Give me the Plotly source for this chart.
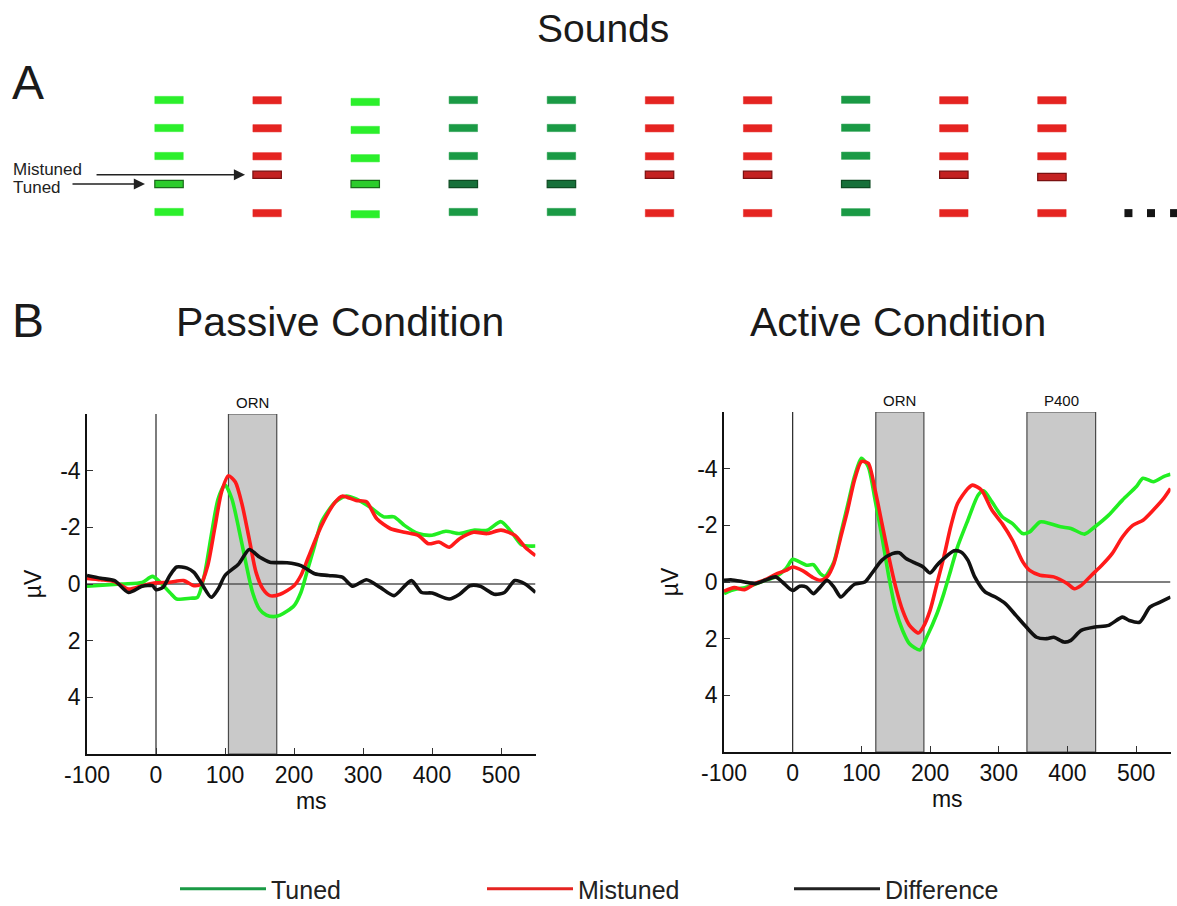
import plotly.graph_objects as go

W, H = 1177, 906

# ---------------- data: ERP waveforms (µV, negative plotted upward) ----------------
passive_tuned_ms = [-100,-50,-20,-5,20,30,50,60,70,80,90,100,110,120,130,140,150,160,170,180,200,210,220,230,240,260,275,290,310,330,345,360,380,400,420,440,460,480,500,515,530,550]
passive_tuned_uv = [0.08,0,-0.05,-0.27,0.3,0.53,0.5,0.47,-0.3,-1.7,-3.0,-3.5,-3.0,-1.95,-0.77,0.3,0.89,1.1,1.15,1.1,0.77,0.3,-0.53,-1.36,-2.2,-2.9,-3.1,-3.0,-2.72,-2.37,-2.37,-2.07,-1.78,-1.72,-1.86,-1.78,-1.9,-1.9,-2.2,-1.84,-1.38,-1.34]

passive_mistuned_ms = [-100,-80,-60,-40,-20,0,20,40,55,65,75,85,95,105,115,125,135,145,155,165,180,200,210,220,240,260,270,290,305,320,340,360,380,395,410,425,440,460,480,500,520,535,550]
passive_mistuned_uv = [-0.2,-0.15,-0.08,0.18,0.06,-0.04,-0.06,-0.12,0.06,0,-0.65,-1.95,-3.25,-3.82,-3.6,-2.78,-1.6,-0.41,0.18,0.41,0.36,0.06,-0.3,-0.89,-2.07,-2.9,-3.1,-2.95,-2.9,-2.3,-1.95,-1.83,-1.72,-1.42,-1.48,-1.3,-1.6,-1.83,-1.78,-1.9,-1.72,-1.3,-1.0]

passive_diff_ms = [-100,-80,-60,-40,-20,-5,0,10,20,30,45,55,65,80,90,100,120,135,150,165,190,210,230,250,270,285,305,325,345,370,385,400,425,440,455,470,490,505,520,535,550]
passive_diff_uv = [-0.3,-0.2,-0.12,0.3,0.08,0.06,0.2,0.12,-0.3,-0.6,-0.56,-0.41,-0.06,0.47,0.18,-0.3,-0.71,-1.22,-0.95,-0.77,-0.75,-0.65,-0.36,-0.3,-0.24,0.08,-0.15,0.12,0.41,-0.12,0.3,0.32,0.53,0.36,0.06,0.08,0.36,0.3,-0.12,0,0.3]

active_tuned_ms = [-100,-90,-80,-70,-55,-40,-25,-10,0,10,20,30,40,47,60,70,80,90,100,110,120,130,140,150,160,170,185,195,210,220,230,240,255,270,278,290,305,320,335,345,360,375,390,405,425,440,460,480,500,510,525,540,550]
active_tuned_uv = [0.41,0.3,0.24,0.2,0.08,-0.06,-0.18,-0.47,-0.8,-0.71,-0.59,-0.61,-0.3,-0.2,-0.71,-1.71,-2.71,-3.72,-4.37,-4.07,-2.89,-1.59,-0.18,1.0,1.71,2.18,2.4,1.95,1.12,0.41,-0.41,-1.24,-2.18,-3.07,-3.22,-2.83,-2.3,-2.06,-1.71,-1.77,-2.12,-2.06,-1.95,-1.89,-1.69,-1.95,-2.36,-2.89,-3.36,-3.66,-3.54,-3.72,-3.8]

active_mistuned_ms = [-100,-85,-70,-55,-40,-25,-10,0,15,30,40,50,60,70,80,90,100,110,120,130,140,150,160,170,183,190,200,210,220,230,240,255,262,275,290,305,320,335,345,360,380,400,410,420,435,450,465,480,495,510,525,540,550]
active_mistuned_uv = [0.32,0.2,0.27,0.06,-0.08,-0.27,-0.41,-0.53,-0.39,-0.15,-0.06,-0.18,-0.65,-1.59,-2.54,-3.6,-4.25,-4.19,-3.24,-2.06,-0.88,0.18,1.0,1.53,1.8,1.59,1.0,0.06,-0.88,-1.95,-2.77,-3.3,-3.42,-3.24,-2.54,-2.06,-1.47,-0.71,-0.41,-0.24,-0.18,0.06,0.24,0.12,-0.24,-0.59,-1.0,-1.59,-2.0,-2.18,-2.54,-2.95,-3.3]

active_diff_ms = [-100,-90,-70,-55,-40,-25,-15,0,10,20,30,40,50,60,70,80,90,105,115,130,145,155,165,180,190,200,210,220,235,245,255,265,280,295,310,325,340,355,370,380,395,405,420,440,460,480,490,505,520,535,550]
active_diff_uv = [-0.06,-0.08,0,0.06,-0.06,-0.18,0,0.3,0.15,0.18,0.41,0.18,-0.06,0.18,0.53,0.3,0.08,0,-0.3,-0.77,-1.0,-1.03,-0.83,-0.65,-0.53,-0.32,-0.59,-0.83,-1.1,-1.06,-0.77,-0.18,0.35,0.53,0.77,1.18,1.59,1.95,2.0,1.95,2.12,2.06,1.71,1.59,1.53,1.24,1.36,1.42,0.89,0.71,0.53]

# analysis windows (ms)
passive_windows = [("ORN", 105, 175)]
active_windows = [("ORN", 121, 191), ("P400", 341, 441)]

x_ticks = [-100, 0, 100, 200, 300, 400, 500]
y_ticks = [-4, -2, 0, 2, 4]

series_names = ["Tuned", "Mistuned", "Difference"]
curve_colors = ["#22ee22", "#ff1a1a", "#111111"]
legend_colors = ["#1a9a45", "#e52421", "#222222"]

# ---------------- data: sound sequence (panel A) ----------------
sound_kinds = ["tuned_light", "mistuned", "tuned_light", "tuned_dark", "tuned_dark",
               "mistuned", "mistuned", "tuned_dark", "mistuned", "mistuned"]
# harmonic levels of each sound (bottom to top); index 1 is the (mis)tuned component
sound_levels = [
    [1.0, 2.0, 3.0, 4.0, 5.0],
    [0.96, 2.33, 2.99, 3.99, 4.99],
    [0.92, 2.0, 2.92, 3.93, 4.93],
    [1.0, 2.0, 3.0, 4.0, 5.0],
    [1.0, 2.0, 3.0, 4.0, 5.0],
    [0.96, 2.33, 2.99, 3.99, 4.99],
    [0.96, 2.33, 2.99, 3.99, 4.99],
    [0.99, 2.0, 3.01, 4.01, 5.01],
    [0.96, 2.33, 2.99, 3.99, 4.99],
    [0.96, 2.25, 2.99, 3.99, 4.99],
]
target_harmonic = 1
ellipsis_x = [9.78, 10.01, 10.245]
ellipsis_y = [0.96, 0.96, 0.96]

kind_fill = {"tuned_light": "#2bef2b", "tuned_dark": "#1a9a45", "mistuned": "#e52421"}
kind_target_fill = {"tuned_light": "#2ccc2c", "tuned_dark": "#17703a", "mistuned": "#c42222"}
kind_target_line = {"tuned_light": "#1a6a1a", "tuned_dark": "#0e4a22", "mistuned": "#7a1010"}

# ---------------- layout helpers ----------------
def px_x(p):
    return p / W

def px_y(p):
    return 1 - p / H

FONT = "Liberation Sans, Arial, sans-serif"

fig = go.Figure()

panels = [
    ("x", "y", [(passive_tuned_ms, passive_tuned_uv), (passive_mistuned_ms, passive_mistuned_uv), (passive_diff_ms, passive_diff_uv)], passive_windows),
    ("x2", "y2", [(active_tuned_ms, active_tuned_uv), (active_mistuned_ms, active_mistuned_uv), (active_diff_ms, active_diff_uv)], active_windows),
]

shapes = []
annotations = []

for xa, ya, data, windows in panels:
    for label, t0, t1 in windows:
        shapes.append(dict(type="rect", xref=xa, yref=ya, x0=t0, x1=t1, y0=6, y1=-6,
                           fillcolor="#c9c9c9", line=dict(color="#4a4a4a", width=1.2), layer="below"))
        annotations.append(dict(xref=xa, yref=ya, x=(t0 + t1) / 2, y=-6, text=label, showarrow=False,
                                yanchor="bottom", yshift=1, font=dict(family=FONT, size=15, color="#111")))
    shapes.append(dict(type="line", xref=xa, yref=ya, x0=0, x1=0, y0=6, y1=-6,
                       line=dict(color="#111", width=1.1), layer="below"))
    shapes.append(dict(type="line", xref=xa, yref=ya, x0=-100, x1=550, y0=0, y1=0,
                       line=dict(color="#555", width=1.3), layer="below"))
    for (ms, uv), name, col in zip(data, series_names, curve_colors):
        fig.add_trace(go.Scatter(x=ms, y=uv, mode="lines", name=name, xaxis=xa, yaxis=ya,
                                 line=dict(color=col, width=3.6, shape="spline", smoothing=0.7),
                                 showlegend=False, hoverinfo="skip"))

# legend-only traces
for name, col in zip(series_names, legend_colors):
    fig.add_trace(go.Scatter(x=[None], y=[None], mode="lines", name=name,
                             line=dict(color=col, width=3), xaxis="x", yaxis="y", showlegend=True))

# ---------------- panel A: sounds ----------------
bar_w = 0.145   # half width in column units
bar_h = 0.13    # half height in level units
for i, (kind, levels) in enumerate(zip(sound_kinds, sound_levels)):
    for j, lv in enumerate(levels):
        is_target = (j == target_harmonic)
        shapes.append(dict(type="rect", xref="x3", yref="y3",
                           x0=i - bar_w, x1=i + bar_w, y0=lv - bar_h, y1=lv + bar_h,
                           fillcolor=kind_target_fill[kind] if is_target else kind_fill[kind],
                           line=dict(color=kind_target_line[kind] if is_target else kind_fill[kind],
                                     width=1.2 if is_target else 0.5)))
fig.add_trace(go.Scatter(x=ellipsis_x, y=ellipsis_y, mode="markers", xaxis="x3", yaxis="y3",
                         marker=dict(symbol="square", size=8, color="#151515"),
                         showlegend=False, hoverinfo="skip"))

annotations.append(dict(xref="x3", yref="y3", x=1 - bar_w - 0.08, y=sound_levels[1][target_harmonic],
                        ax=-150, ay=0, text="", showarrow=True, arrowhead=2, arrowsize=1.4,
                        arrowwidth=1.6, arrowcolor="#222"))
annotations.append(dict(xref="x3", yref="y3", x=0 - bar_w - 0.1, y=sound_levels[0][target_harmonic],
                        ax=-74, ay=0, text="", showarrow=True, arrowhead=2, arrowsize=1.4,
                        arrowwidth=1.6, arrowcolor="#222"))
annotations.append(dict(xref="paper", yref="paper", x=px_x(11), y=px_y(170), text="Mistuned",
                        showarrow=False, xanchor="left", yanchor="middle",
                        font=dict(family=FONT, size=17, color="#222")))
annotations.append(dict(xref="paper", yref="paper", x=px_x(11), y=px_y(188), text="Tuned",
                        showarrow=False, xanchor="left", yanchor="middle",
                        font=dict(family=FONT, size=17, color="#222")))

annotations += [
    dict(xref="paper", yref="paper", x=px_x(603), y=px_y(28), text="Sounds", showarrow=False,
         xanchor="center", yanchor="middle", font=dict(family=FONT, size=39, color="#1a1a1a")),
    dict(xref="paper", yref="paper", x=px_x(10), y=px_y(82), text="A", showarrow=False,
         xanchor="left", yanchor="middle", font=dict(family="Liberation Sans Narrow, " + FONT, size=48, color="#1a1a1a")),
    dict(xref="paper", yref="paper", x=px_x(10), y=px_y(321), text="B", showarrow=False,
         xanchor="left", yanchor="middle", font=dict(family="Liberation Sans Narrow, " + FONT, size=48, color="#1a1a1a")),
    dict(xref="paper", yref="paper", x=px_x(340), y=px_y(322), text="Passive Condition", showarrow=False,
         xanchor="center", yanchor="middle", font=dict(family=FONT, size=41, color="#1a1a1a")),
    dict(xref="paper", yref="paper", x=px_x(898), y=px_y(322), text="Active Condition", showarrow=False,
         xanchor="center", yanchor="middle", font=dict(family=FONT, size=41, color="#1a1a1a")),
]

xaxis_common = dict(range=[-100, 550], tickvals=x_ticks, ticktext=[str(t) for t in x_ticks],
                    ticks="inside", ticklen=6, tickcolor="#333", showline=True, linecolor="#111",
                    linewidth=1.5, showgrid=False, zeroline=False, mirror=False, automargin=False,
                    tickfont=dict(family=FONT, size=23, color="#111"),
                    title=dict(text="ms", font=dict(family=FONT, size=23, color="#111"), standoff=6))
yaxis_common = dict(range=[6, -6], tickvals=y_ticks, ticktext=[str(t) for t in y_ticks],
                    ticks="inside", ticklen=6, tickcolor="#333", showline=True, linecolor="#111",
                    linewidth=1.5, showgrid=False, zeroline=False, automargin=False,
                    tickfont=dict(family=FONT, size=23, color="#111"),
                    title=dict(text="µV", font=dict(family=FONT, size=23, color="#111"), standoff=12))

fig.update_layout(
    width=W, height=H, margin=dict(l=0, r=0, t=0, b=0, autoexpand=False),
    paper_bgcolor="white", plot_bgcolor="rgba(0,0,0,0)",
    xaxis=dict(domain=[px_x(87), px_x(535.5)], anchor="y", **xaxis_common),
    yaxis=dict(domain=[px_y(754), px_y(414)], anchor="x", **yaxis_common),
    xaxis2=dict(domain=[px_x(724), px_x(1170.5)], anchor="y2", **xaxis_common),
    yaxis2=dict(domain=[px_y(752), px_y(412)], anchor="x2", **yaxis_common),
    xaxis3=dict(domain=[0, 1], anchor="y3", range=[-1.723, 10.275], visible=False, fixedrange=True),
    yaxis3=dict(domain=[px_y(240), px_y(60)], anchor="x3", range=[0, 6.4286], visible=False, fixedrange=True),
    shapes=shapes, annotations=annotations,
    showlegend=True,
    legend=dict(orientation="h", x=px_x(175), y=px_y(889), xanchor="left", yanchor="middle",
                entrywidth=206, entrywidthmode="pixels", itemwidth=86,
                font=dict(family=FONT, size=25, color="#222"), bgcolor="rgba(0,0,0,0)"),
)

fig.write_html("out.html", config={"displayModeBar": False},
               post_script="document.body.style.margin='0';document.body.style.overflow='hidden';")
